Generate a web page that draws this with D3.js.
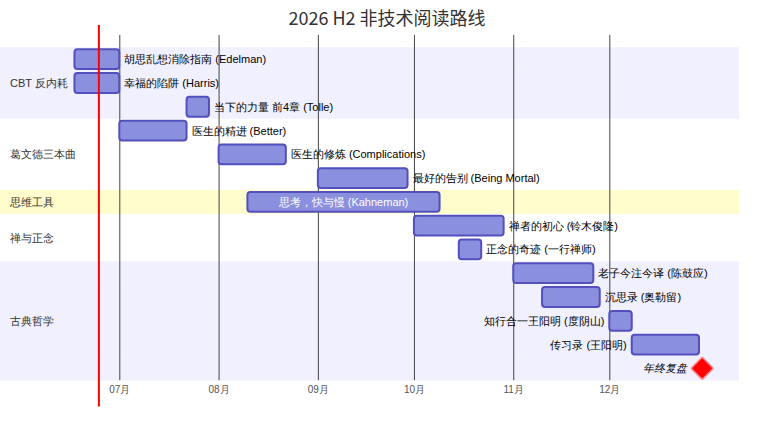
<!DOCTYPE html>
<html>
<head>
<meta charset="utf-8">
<script src="https://cdn.jsdelivr.net/npm/d3@7"></script>
<style>
  html, body { margin: 0; padding: 0; background: #fff; }
  svg { display: block; font-family: "trebuchet ms", verdana, arial, sans-serif; }
</style>
</head>
<body>
<svg id="chart" width="784" height="436"></svg>
<script>
// ---- data ----
const chartTitle = "2026 H2 非技术阅读路线";
const todayDate = "2026-06-24T15:00";
const sectionNames = ["CBT 反内耗", "葛文德三本曲", "思维工具", "禅与正念", "古典哲学"];
const taskNames = [
  "胡思乱想消除指南 (Edelman)",
  "幸福的陷阱 (Harris)",
  "当下的力量 前4章 (Tolle)",
  "医生的精进 (Better)",
  "医生的修炼 (Complications)",
  "最好的告别 (Being Mortal)",
  "思考，快与慢 (Kahneman)",
  "禅者的初心 (铃木俊隆)",
  "正念的奇迹 (一行禅师)",
  "老子今注今译 (陈鼓应)",
  "沉思录 (奥勒留)",
  "知行合一王阳明 (度阴山)",
  "传习录 (王阳明)",
  "年终复盘"
];
const taskSection = [0, 0, 0, 1, 1, 1, 2, 3, 3, 4, 4, 4, 4, 4];
const taskStart = ["2026-06-17", "2026-06-17", "2026-07-22", "2026-07-01", "2026-08-01", "2026-09-01",
                   "2026-08-10", "2026-10-01", "2026-10-15", "2026-11-01", "2026-11-10", "2026-12-01",
                   "2026-12-08", "2026-12-30"];
const taskEnd   = ["2026-07-01", "2026-07-01", "2026-07-29", "2026-07-22", "2026-08-22", "2026-09-29",
                   "2026-10-09", "2026-10-29", "2026-10-22", "2026-11-26", "2026-11-28", "2026-12-08",
                   "2026-12-29", "2026-12-30"];
const taskMilestone = [false, false, false, false, false, false, false, false, false, false, false, false, false, true];

// ---- layout ----
const W = 784;
const bandTop = 47.3, gap = 23.78, barH = 19.8, barOff = 2.0;
const bandRight = 739;
const gridTop = 35, gridBottom = 380.2;
const placementLimit = 840;

const parse = d3.timeParse("%Y-%m-%d");
const tasks = taskNames.map((n, i) => ({
  name: n, section: taskSection[i],
  start: parse(taskStart[i]), end: parse(taskEnd[i]), milestone: taskMilestone[i], i
}));

const x = d3.scaleTime()
  .domain([parse("2026-06-17"), parse("2026-12-30")])
  .range([74.46, 702.2]);

const svg = d3.select("#chart");

// section bands
const sectionColors = ["#f0f0ff", "#ffffff", "#fffdcc", "#ffffff"];
const sectionRows = sectionNames.map((s, si) => {
  const rows = tasks.filter(t => t.section === si).map(t => t.i);
  return { name: s, si, first: d3.min(rows), count: rows.length };
});
svg.append("g").selectAll("rect").data(tasks).join("rect")
  .attr("x", 0)
  .attr("y", d => bandTop + d.i * gap)
  .attr("width", bandRight)
  .attr("height", gap + 0.3)
  .attr("fill", d => sectionColors[d.section % 4]);

// grid
const grid = svg.append("g").attr("transform", `translate(0,${gridBottom})`);
grid.call(d3.axisBottom(x)
  .ticks(d3.timeMonth.every(1))
  .tickSize(-(gridBottom - gridTop))
  .tickSizeOuter(0)
  .tickPadding(6)
  .tickFormat(d3.timeFormat("%m月")));
grid.select(".domain").remove();
grid.selectAll(".tick line").attr("stroke", "#444").attr("stroke-width", 1);
grid.selectAll(".tick text")
  .attr("fill", "#555")
  .attr("font-size", 10)
  .attr("font-family", '"trebuchet ms", verdana, arial, sans-serif');

// section labels
svg.append("g").selectAll("text").data(sectionRows).join("text")
  .attr("x", 10)
  .attr("y", d => bandTop + (d.first + d.count / 2) * gap)
  .attr("dominant-baseline", "central")
  .attr("font-size", 11)
  .attr("fill", "#333")
  .text(d => d.name);

// bars
const bars = tasks.filter(t => !t.milestone);
svg.append("g").selectAll("rect").data(bars).join("rect")
  .attr("x", d => x(d.start))
  .attr("y", d => bandTop + d.i * gap + barOff)
  .attr("width", d => x(d.end) - x(d.start))
  .attr("height", barH)
  .attr("rx", 3).attr("ry", 3)
  .attr("fill", "#8a90dd")
  .attr("stroke", "#534fbc")
  .attr("stroke-width", 2);

// milestones
const ms = tasks.filter(t => t.milestone);
svg.append("g").selectAll("rect").data(ms).join("rect")
  .attr("x", -barH / 2).attr("y", -barH / 2)
  .attr("width", barH).attr("height", barH)
  .attr("rx", 2).attr("ry", 2)
  .attr("transform", d => `translate(${x(d.start)},${bandTop + d.i * gap + barOff + barH / 2}) rotate(45) scale(0.8)`)
  .attr("fill", "#ff0000")
  .attr("stroke", "#ff8888")
  .attr("stroke-width", 2);

// labels
const labels = svg.append("g").selectAll("text").data(tasks).join("text")
  .attr("font-size", 11)
  .attr("dominant-baseline", "central")
  .attr("y", d => bandTop + d.i * gap + barOff + barH / 2)
  .attr("font-style", d => d.milestone ? "italic" : null)
  .text(d => d.name);

labels.each(function(d) {
  const tw = this.getComputedTextLength();
  let sx = x(d.start), ex = x(d.end);
  if (d.milestone) { sx = x(d.start) - barH / 2; ex = x(d.start) + barH / 2; }
  const el = d3.select(this);
  if (tw > ex - sx) {
    if (ex + tw + 112.5 > placementLimit) {
      el.attr("x", sx - 5).attr("text-anchor", "end").attr("fill", "#000");
    } else {
      el.attr("x", ex + 5).attr("text-anchor", "start").attr("fill", "#000");
    }
  } else {
    el.attr("x", (sx + ex) / 2).attr("text-anchor", "middle").attr("fill", "#fff");
  }
});

// today line
const td = new Date(todayDate);
svg.append("line")
  .attr("x1", x(td)).attr("x2", x(td))
  .attr("y1", 25).attr("y2", 406.5)
  .attr("stroke", "#ff0000")
  .attr("stroke-width", 2);

// title
svg.append("text")
  .attr("x", W / 2 - 5)
  .attr("y", 25)
  .attr("text-anchor", "middle")
  .attr("font-size", 18)
  .attr("font-family", '"Noto Sans CJK SC", "Noto Sans", sans-serif')
  .attr("fill", "#333")
  .text(chartTitle);
</script>
</body>
</html>
